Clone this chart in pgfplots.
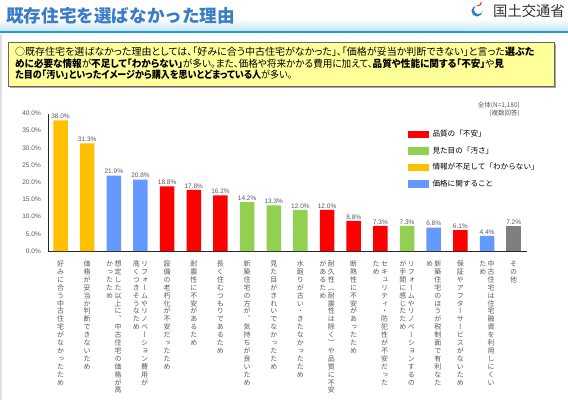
\documentclass[border=0pt]{standalone}
\usepackage{fontspec}
\setmainfont{Liberation Sans}
\newfontfamily\jp{Noto Sans CJK JP}
\newfontfamily\jpv[RawFeature=+vert]{Noto Sans CJK JP}
\newfontfamily\jpp[RawFeature=+palt]{Noto Sans CJK JP}
\usepackage{pgfplots}
\pgfplotsset{compat=1.18}

\definecolor{cOr}{HTML}{FFC000}
\definecolor{cBl}{HTML}{6699FF}
\definecolor{cRd}{HTML}{FF0000}
\definecolor{cGr}{HTML}{92D050}
\definecolor{cGy}{HTML}{7F7F7F}
\definecolor{tgray}{HTML}{595959}
\definecolor{ttl}{HTML}{3A7DC6}
\definecolor{band}{HTML}{C8E6F5}
\definecolor{bline}{HTML}{1AA0D8}
\definecolor{ybox}{HTML}{FFFF99}
\definecolor{iconb}{HTML}{2A7FC8}

\newcommand\vc[1]{\hbox to 7.9bp{\hss\vrule height 6.3bp depth 1.6bp width 0pt\relax #1\hss}}
\ExplSyntaxOn
\seq_new:N \l_va_seq
\seq_new:N \l_vb_seq
\int_new:N \l_vn_int
\NewDocumentCommand\vpair{mm}{
  \seq_clear:N \l_va_seq
  \seq_clear:N \l_vb_seq
  \tl_map_inline:nn {#1} {\seq_put_right:Nn \l_va_seq {##1}}
  \tl_map_inline:nn {#2} {\seq_put_right:Nn \l_vb_seq {##1}}
  \int_set:Nn \l_vn_int {\int_max:nn {\seq_count:N \l_va_seq} {\seq_count:N \l_vb_seq}}
  \vtop{\offinterlineskip
    \int_step_inline:nn {\l_vn_int} {
      \hbox{\vc{\seq_item:Nn \l_vb_seq {##1}}\kern0.5bp\vc{\seq_item:Nn \l_va_seq {##1}}}
    }}
}
\NewDocumentCommand\vsingle{m}{
  \vtop{\offinterlineskip
    \tl_map_inline:nn {#1} {\vc{##1}}}
}
\ExplSyntaxOff
\newcommand\vl[1]{\hbox{\jpv\fontsize{7bp}{7.9bp}\selectfont\vsingle{#1}}}
\newcommand\vll[2]{\hbox{\jpv\fontsize{7bp}{7.9bp}\selectfont\vpair{#1}{#2}}}

\pgfplotsset{myleg/.style={legend image code/.code={\fill[##1] (0bp,-3.7bp) rectangle (20.5bp,3.7bp);}}}

\begin{document}
\begin{tikzpicture}
\begin{scope}[x=1bp,y=-1bp]
\fill[white] (0,0) rectangle (568,400);
\useasboundingbox (0,0) rectangle (568,400);
\fill[black!12] (0,34) rectangle (1.5,400);
\shade[top color=white, bottom color=band] (0,19) rectangle (568,30.5);
\fill[bline] (0,30.5) rectangle (568,33.3);
\node[anchor=west, text=ttl, font=\jp\bfseries\fontsize{17.6bp}{18bp}\selectfont, inner sep=0pt] at (6,16) {既存住宅を選ばなかった理由};
% logo
\fill[iconb] (477,11) circle (5.5);
\fill[white] (478.3,9.6) circle (4.4);
\draw[red, line width=0.9bp] (477.5,5.8) arc (100:-10:3.2);
\node[anchor=west, font=\jp\fontsize{14.3bp}{15bp}\selectfont, text=black!80, inner sep=0pt] at (493,11.5) {国土交通省};
% yellow box
\fill[black!35] (9.5,43.5) rectangle (555.5,87.5);
\filldraw[fill=ybox, draw=black!60, line width=0.8bp] (8,42) rectangle (554,86);
\node[anchor=west, inner sep=0pt, font=\jpp\fontsize{10bp}{11bp}\selectfont] at (15,52) {○既存住宅を選ばなかった理由としては、「好みに合う中古住宅がなかった」、「価格が妥当か判断できない」と言った{\bfseries 選ぶた}};
\node[anchor=west, inner sep=0pt, font=\jpp\fontsize{10bp}{11bp}\selectfont] at (15,64) {\scalebox{0.96}[1]{{\bfseries めに必要な情報}が{\bfseries 不足して「わからない」}が多い。また、価格や将来かかる費用に加えて、{\bfseries 品質や性能に関する「不安」}や{\bfseries 見}}};
\node[anchor=west, inner sep=0pt, font=\jpp\fontsize{10bp}{11bp}\selectfont] at (15,75) {\scalebox{0.905}[1]{{\bfseries た目の「汚い」といったイメージから購入を思いとどまっている人}が多い。}};
% top right note
\node[anchor=east, font=\jp\fontsize{6.5bp}{7bp}\selectfont, text=tgray, inner sep=0pt] at (520,105) {全体(N=1,180)};
\node[anchor=east, font=\jp\fontsize{6.5bp}{7bp}\selectfont, text=tgray, inner sep=0pt] at (520,113) {(複数回答)};
\end{scope}

\begin{axis}[
 at={(48bp,-251bp)}, anchor=south west, scale only axis,
 width=479bp, height=137.5bp,
 xmin=-0.47, xmax=17.5, ymin=0, ymax=40,
 axis lines=left, axis line style={-, black!85, line width=0.9bp},
 ybar, bar width=14.5bp, bar shift=0pt,
 ytick={0,5,...,40}, major tick length=0pt,
 xtick={0,...,17},
 xticklabels={
  {\vl{好みに合う中古住宅がなかったため}},
  {\vl{価格が妥当か判断できないため}},
  {\vll{想定した以上に、中古住宅の価格が高}{かったため}},
  {\vll{リフォームやリノベーション費用が}{高くつきそうなため}},
  {\vl{設備の老朽化が不安だったため}},
  {\vl{耐震性に不安があるため}},
  {\vl{長く住むつもりであるため}},
  {\vl{新築住宅の方が、気持ちが良いため}},
  {\vl{見た目がきれいでなかったため}},
  {\vl{水廻りが古い・きたなかったため}},
  {\vll{耐久性（耐震性は除く）や品質に不安}{があるため}},
  {\vl{断熱性に不安があったため}},
  {\vll{セキュリティ・防犯性が不安だった}{ため}},
  {\vll{リフォームやリノベーションするの}{が手間に感じたため}},
  {\vll{新築住宅のほうが税制面で有利なた}{め}},
  {\vl{保証やアフターサービスがないため}},
  {\vll{中古住宅は住宅融資を利用しにくい}{ため}},
  {\vl{その他}}},
 /pgf/number format/assume math mode=true,
 yticklabel={\pgfmathprintnumber[fixed,fixed zerofill,precision=1]{\tick}\%},
 yticklabel style={font=\fontsize{6.5bp}{7bp}\selectfont, text=tgray, anchor=east, inner sep=0pt, xshift=-7bp},
 xticklabel style={anchor=north, inner sep=0pt, yshift=-9bp, text=tgray},
 nodes near coords={\pgfmathprintnumber[fixed,fixed zerofill,precision=1]{\pgfplotspointmeta}\%},
 every node near coord/.append style={font=\fontsize{6.5bp}{7bp}\selectfont, text=tgray, inner sep=1.5bp, anchor=south},
 legend style={at={(axis description cs:0.7516,0.878)}, anchor=north west, draw=none, fill=none,
   inner sep=0pt, row sep=8.6bp, column sep=0pt,
   font=\jp\fontsize{7.6bp}{8bp}\selectfont, nodes={inner xsep=3.8bp, inner ysep=0pt}},
 legend cell align=left,
 clip=false,
]
\addplot[fill=cRd, draw=none, myleg] coordinates {(4,18.8)(5,17.8)(6,16.2)(10,12.0)(11,8.8)(12,7.3)(15,6.1)};
\addplot[fill=cGr, draw=none, myleg] coordinates {(7,14.2)(8,13.3)(9,12.0)(13,7.3)};
\addplot[fill=cOr, draw=none, myleg] coordinates {(0,38.0)(1,31.3)};
\addplot[fill=cBl, draw=none, myleg] coordinates {(2,21.9)(3,20.8)(14,6.8)(16,4.4)};
\addplot[fill=cGy, draw=none, forget plot] coordinates {(17,7.2)};
\legend{品質の「不安」,見た目の「汚さ」,情報が不足して「わからない」,価格に関すること}
\end{axis}
\end{tikzpicture}
\end{document}
